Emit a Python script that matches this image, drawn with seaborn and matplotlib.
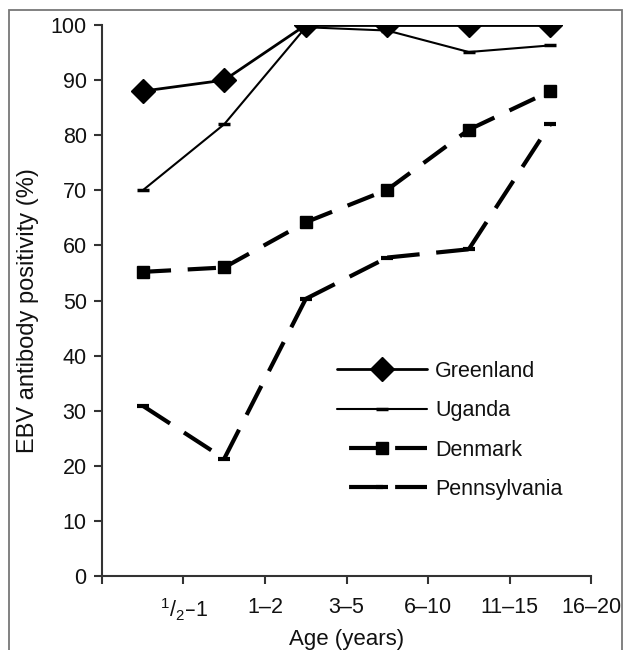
import matplotlib
matplotlib.use("Agg")
import matplotlib.pyplot as plt
from matplotlib.lines import Line2D
from matplotlib.patches import Rectangle
import numpy as np
import pandas as pd
import seaborn as sns

age_labels = ["", "$^1/_2$\u20131", "1\u20132", "3\u20135", "6\u201310", "11\u201315", "16\u201320"]
countries = ["Greenland", "Uganda", "Denmark", "Pennsylvania"]
greenland = [88, 90, 100, 100, 100, 100]
uganda = [70, 82, 99.6, 99, 95.1, 96.3]
denmark = [55.2, 56, 64.2, 70.1, 81, 88]
pennsylvania = [30.9, 21.3, 50.3, 57.8, 59.3, 82]

sns.set_theme(style="white")
plt.rcParams["font.family"] = ["Liberation Sans", "DejaVu Sans"]
plt.rcParams["mathtext.default"] = "regular"

n_groups = len(greenland)
positions = np.arange(n_groups) + 0.5
values = dict(zip(countries, [greenland, uganda, denmark, pennsylvania]))

# each segment drawn on its own so the dash pattern restarts at every point
seg_rows = []
for country in countries:
    vals = values[country]
    for i in range(n_groups - 1):
        seg_rows.append((country, i, positions[i], vals[i]))
        seg_rows.append((country, i, positions[i + 1], vals[i + 1]))
segments = pd.DataFrame(seg_rows, columns=["country", "segment", "position", "value"])
points = pd.DataFrame({
    "country": np.repeat(countries, n_groups),
    "position": np.tile(positions, len(countries)),
    "value": greenland + uganda + denmark + pennsylvania,
})

line_styles = {
    "Greenland": dict(linewidth=2.0, linestyle="-"),
    "Uganda": dict(linewidth=1.5, linestyle="-"),
    "Denmark": dict(linewidth=3.0, linestyle=(0, (6.8, 4.0))),
    "Pennsylvania": dict(linewidth=3.0, linestyle=(0, (7.8, 4.0))),
}
marker_styles = {
    "Greenland": dict(marker="D", markersize=12, mew=1),
    "Uganda": dict(marker="_", markersize=9, mew=2.5),
    "Denmark": dict(marker="s", markersize=9, mew=1),
    "Pennsylvania": dict(marker="_", markersize=9, mew=3),
}

fig = plt.figure(figsize=(6.23, 6.5), dpi=100)
ax = fig.add_axes([0.1637, 0.1138, 0.785, 0.8477])

for country in countries:
    sns.lineplot(data=segments[segments["country"] == country], x="position", y="value",
                 units="segment", estimator=None, ax=ax, color="black", **line_styles[country])
    sns.lineplot(data=points[points["country"] == country], x="position", y="value",
                 ax=ax, color="black", linestyle="none", markeredgecolor="black",
                 markerfacecolor="black", **marker_styles[country])

ax.set_xlim(0, n_groups)
ax.set_ylim(0, 100)
ax.set_xticks(np.arange(n_groups + 1))
ax.set_xticklabels(age_labels)
ax.set_yticks(np.arange(0, 101, 10))
sns.despine(ax=ax)
for side in ["left", "bottom"]:
    ax.spines[side].set_color("#333333")
    ax.spines[side].set_linewidth(1.5)
ax.tick_params(axis="both", direction="out", length=6, width=1.5, color="#333333",
               labelsize=15.5, labelcolor="#111111")
ax.tick_params(axis="x", pad=9, bottom=True)
ax.tick_params(axis="y", pad=5, left=True)
ax.set_xlabel("Age (years)", fontsize=16, color="#111111", labelpad=4)
ax.set_ylabel("EBV antibody positivity (%)", fontsize=17, color="#111111")
ax.yaxis.set_label_coords(-0.128, 0.481)

# legend lines start with a gap, as in the original
handles = []
for country in countries:
    ls = line_styles[country]["linestyle"]
    if ls != "-":
        ls = (8.15, (8.15, 2.9))
    handles.append(Line2D([], [], color="black", linewidth=line_styles[country]["linewidth"],
                          linestyle=ls, markeredgecolor="black", markerfacecolor="black",
                          **marker_styles[country]))
leg = ax.legend(handles, countries, loc="upper left", bbox_to_anchor=(337 / 623, 1 - 361 / 650),
                bbox_transform=fig.transFigure, frameon=False, fontsize=15.5,
                handlelength=4.2, handletextpad=0.35, labelspacing=0.85,
                borderpad=0, borderaxespad=0)
for t in leg.get_texts():
    t.set_color("#111111")

fig.patches.append(Rectangle((9 / 623, -0.1), 613 / 623, 1.1 - 10 / 650, transform=fig.transFigure,
                             fill=False, edgecolor="#777777", linewidth=1.3))

fig.savefig("out.png", dpi=100)
